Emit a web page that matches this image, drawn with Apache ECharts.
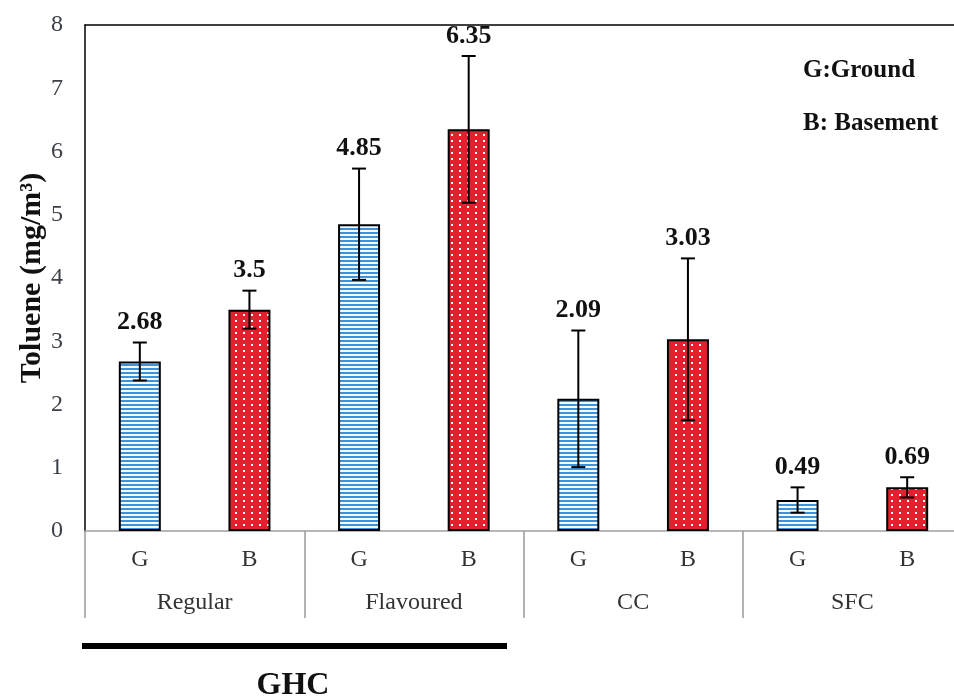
<!DOCTYPE html>
<html>
<head>
<meta charset="utf-8">
<script src="https://cdn.jsdelivr.net/npm/echarts@6/dist/echarts.min.js"></script>
<style>
  html, body { margin: 0; padding: 0; background: #fff; }
  #chart { width: 954px; height: 696px; }
</style>
</head>
<body>
<div id="chart"></div>
<script>
// sub categories (G = ground, B = basement) and the product groups
var subCats = ['G', 'B', 'G', 'B', 'G', 'B', 'G', 'B'];
var groups = ['Regular', 'Flavoured', 'CC', 'SFC'];

// mean toluene (mg/m3) and error (+/-)
var groundMeans = [2.68, 4.85, 2.09, 0.49];
var basementMeans = [3.5, 6.35, 3.03, 0.69];
var groundErr = [0.3, 0.88, 1.08, 0.2];
var basementErr = [0.3, 1.16, 1.28, 0.16];

var yMin = 0, yMax = 8, yStep = 1;

var serif = '"Liberation Serif", "Times New Roman", serif';

// small canvas patterns for the bar fills
function stripePattern() {
    var c = document.createElement('canvas');
    c.width = 4; c.height = 4;
    var ctx = c.getContext('2d');
    ctx.fillStyle = '#f6f9fd';
    ctx.fillRect(0, 0, 4, 4);
    ctx.fillStyle = '#3d92d8';
    ctx.fillRect(0, 0, 4, 2);
    return c;
}
function dotPattern() {
    var c = document.createElement('canvas');
    c.width = 8; c.height = 6;
    var ctx = c.getContext('2d');
    ctx.fillStyle = '#e3202d';
    ctx.fillRect(0, 0, 8, 6);
    ctx.fillStyle = '#ffffff';
    ctx.fillRect(3, 2, 2, 2);
    return c;
}

// put G values on even slots, B values on odd slots
var gData = [], bData = [], errData = [];
for (var i = 0; i < groups.length; i++) {
    gData.push(groundMeans[i], '-');
    bData.push('-', basementMeans[i]);
    errData.push([2 * i, groundMeans[i] - groundErr[i], groundMeans[i] + groundErr[i], groundMeans[i]]);
    errData.push([2 * i + 1, basementMeans[i] - basementErr[i], basementMeans[i] + basementErr[i], basementMeans[i]]);
}

var chart = echarts.init(document.getElementById('chart'));

var option = {
    animation: false,
    backgroundColor: '#fff',
    grid: { left: 85, width: 877, top: 25, bottom: 165, outerBoundsMode: 'none' },
    xAxis: [
        {
            type: 'category',
            data: subCats,
            position: 'bottom',
            axisLine: { lineStyle: { color: '#a0a0a0', width: 1.5 } },
            axisTick: { show: false },
            axisLabel: { fontFamily: serif, fontSize: 24, color: '#333', margin: 17 }
        },
        {
            type: 'category',
            data: groups,
            position: 'bottom',
            axisLine: { show: false },
            axisTick: { show: true, length: 87, lineStyle: { color: '#999', width: 1.5 } },
            axisLabel: { fontFamily: serif, fontSize: 24, color: '#333', margin: 60 }
        },
        {
            // top frame line
            type: 'category',
            data: groups,
            position: 'top',
            axisLine: { lineStyle: { color: '#000', width: 1.5 } },
            axisTick: { show: false },
            axisLabel: { show: false }
        }
    ],
    yAxis: {
        type: 'value',
        min: yMin,
        max: yMax,
        interval: yStep,
        name: 'Toluene (mg/m³)',
        nameLocation: 'middle',
        nameGap: 38,
        nameMoveOverlap: false,
        nameTextStyle: { fontFamily: serif, fontSize: 30, fontWeight: 'bold', color: '#111' },
        axisLine: { show: true, lineStyle: { color: '#000', width: 1.5 } },
        axisTick: { show: false },
        splitLine: { show: false },
        axisLabel: { fontFamily: serif, fontSize: 24, color: '#3c4048', margin: 22 }
    },
    graphic: [
        { type: 'text', left: 803, top: 58, style: { text: 'G:Ground', font: 'bold 25px ' + serif, fill: '#111' } },
        { type: 'text', left: 803, top: 111, style: { text: 'B: Basement', font: 'bold 25px ' + serif, fill: '#111' } },
        { type: 'rect', shape: { x: 82, y: 643, width: 425, height: 6 }, style: { fill: '#000' } },
        { type: 'text', x: 293, y: 686, style: { text: 'GHC', font: 'bold 32px ' + serif, fill: '#111', align: 'center', verticalAlign: 'middle' } }
    ],
    series: [
        {
            name: 'Ground',
            type: 'bar',
            data: gData,
            barWidth: 42,
            barGap: '-100%',
            itemStyle: { color: { image: stripePattern(), repeat: 'repeat' }, borderColor: '#000', borderWidth: 2 }
        },
        {
            name: 'Basement',
            type: 'bar',
            data: bData,
            barWidth: 42,
            barGap: '-100%',
            itemStyle: { color: { image: dotPattern(), repeat: 'repeat' }, borderColor: '#000', borderWidth: 2 }
        },
        {
            name: 'Error',
            type: 'custom',
            data: errData,
            z: 10,
            clip: false,
            renderItem: function (params, api) {
                var x = api.value(0);
                var lo = api.coord([x, api.value(1)]);
                var hi = api.coord([x, api.value(2)]);
                var cap = 7;
                var style = { stroke: '#000', lineWidth: 2 };
                return {
                    type: 'group',
                    children: [
                        { type: 'line', shape: { x1: hi[0], y1: hi[1], x2: lo[0], y2: lo[1] }, style: style },
                        { type: 'line', shape: { x1: hi[0] - cap, y1: hi[1], x2: hi[0] + cap, y2: hi[1] }, style: style },
                        { type: 'line', shape: { x1: lo[0] - cap, y1: lo[1], x2: lo[0] + cap, y2: lo[1] }, style: style },
                        {
                            type: 'text',
                            x: hi[0], y: hi[1] - 20,
                            style: {
                                text: String(api.value(3)),
                                font: 'bold 26px ' + serif,
                                fill: '#111',
                                align: 'center',
                                verticalAlign: 'middle'
                            }
                        }
                    ]
                };
            }
        }
    ]
};

chart.setOption(option);
</script>
</body>
</html>
